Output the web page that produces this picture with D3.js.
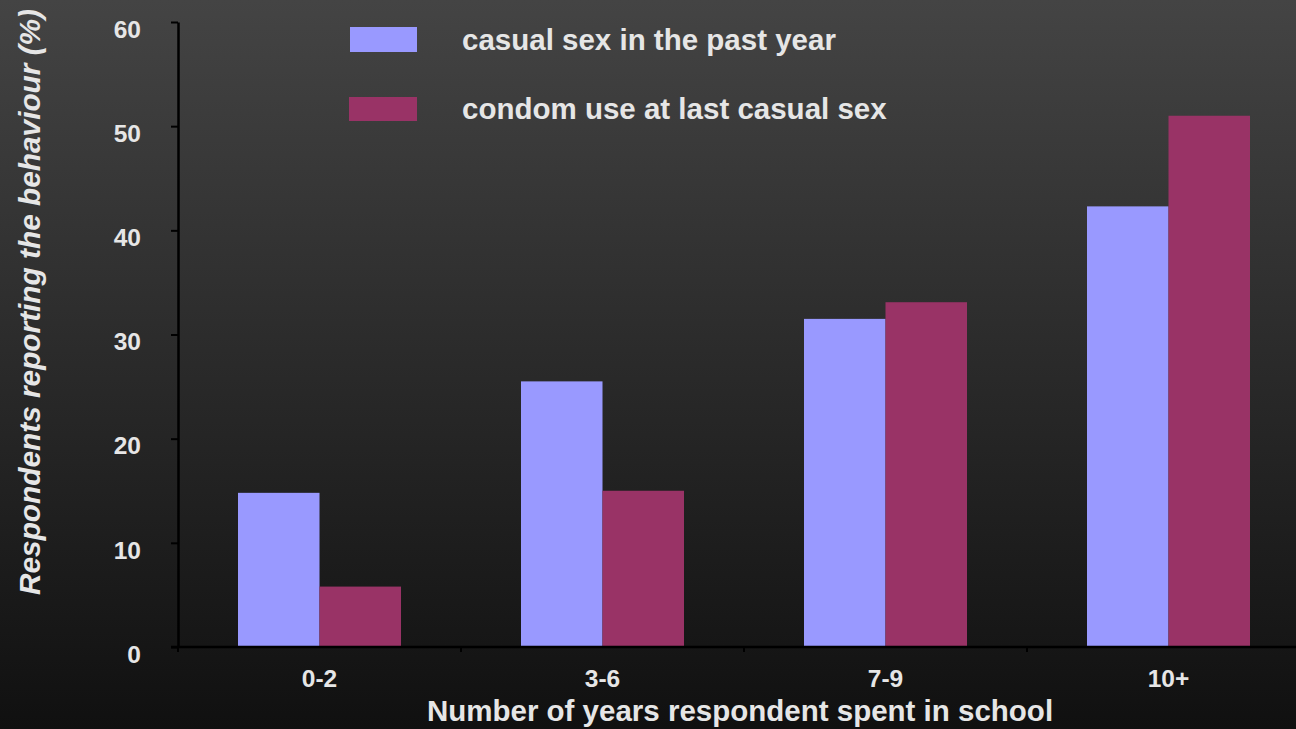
<!DOCTYPE html>
<html>
<head>
<meta charset="utf-8">
<script src="https://cdn.jsdelivr.net/npm/d3@7"></script>
<style>
  html, body { margin: 0; padding: 0; background: #111; }
  svg { display: block; }
  text { font-family: "Liberation Sans", Arial, sans-serif; font-weight: bold; fill: #e6e6e6; }
</style>
</head>
<body>
<svg id="chart" width="1296" height="729"></svg>
<script>
// Years of schooling groups
const categories = ["0-2", "3-6", "7-9", "10+"];
// Percent of respondents reporting each behaviour
const casualSex = [14.8, 25.5, 31.5, 42.3];
const condomUse = [5.8, 15.0, 33.1, 51.0];
const seriesNames = ["casual sex in the past year", "condom use at last casual sex"];
const seriesColors = ["#9999ff", "#993366"];
const yTicks = [0, 10, 20, 30, 40, 50, 60];

const svg = d3.select("#chart");
const W = 1296, H = 729;

// Background: vertical dark gradient
const defs = svg.append("defs");
const grad = defs.append("linearGradient")
  .attr("id", "bg").attr("x1", 0).attr("y1", 0).attr("x2", 0).attr("y2", 1);
grad.append("stop").attr("offset", "0%").attr("stop-color", "#444444");
grad.append("stop").attr("offset", "100%").attr("stop-color", "#101010");
svg.append("rect").attr("width", W).attr("height", H).attr("fill", "url(#bg)");

const x0 = 178, x1 = 1310, yTop = 22, yBot = 647;

const x = d3.scaleBand().domain(categories).range([x0, x1]).paddingInner(0).paddingOuter(0);
const barW = 81.5;
const xs = d3.scaleBand().domain([0, 1]).range([0, 2 * barW]);
const y = d3.scaleLinear().domain([0, 60]).range([yBot, yTop]);

const series = [casualSex, condomUse];

// Bars
const groups = svg.append("g").selectAll("g")
  .data(categories)
  .join("g")
  .attr("transform", d => `translate(${x(d) + (x.bandwidth() - 2 * barW) / 2},0)`);

groups.selectAll("rect")
  .data((d, i) => series.map((s, k) => ({ k, v: s[i] })))
  .join("rect")
  .attr("x", d => xs(d.k))
  .attr("width", xs.bandwidth())
  .attr("y", d => y(d.v))
  .attr("height", d => y(0) - y(d.v))
  .attr("fill", d => seriesColors[d.k]);

// Y axis
const yAxis = svg.append("g")
  .attr("transform", `translate(${x0},0)`)
  .call(d3.axisLeft(y).tickValues(yTicks).tickSize(7).tickSizeOuter(0).tickPadding(30));
yAxis.select(".domain").attr("stroke", "#000").attr("stroke-width", 2.5);
yAxis.selectAll(".tick line").attr("stroke", "#000").attr("stroke-width", 2);
yAxis.selectAll(".tick text")
  .attr("dy", "0.95em").attr("y", -8)
  .style("font-size", "24.5px").attr("fill", "#e6e6e6");

// X axis: baseline, boundary ticks and centred category labels
const xAxis = svg.append("g")
  .attr("transform", `translate(0,${yBot})`)
  .call(d3.axisBottom(x).tickSize(0).tickPadding(30).tickSizeOuter(0));
xAxis.select(".domain").attr("stroke", "#000").attr("stroke-width", 2.5)
  .attr("d", `M${x0 - 7},0H${x1}`);
xAxis.selectAll(".tick text").style("font-size", "24.5px").attr("fill", "#e6e6e6")
  .attr("dy", "0.71em").attr("y", 23);

const boundaries = categories.map(c => x(c)).concat([x1]);
xAxis.selectAll("line.bound")
  .data(boundaries)
  .join("line")
  .attr("class", "bound")
  .attr("x1", d => d).attr("x2", d => d)
  .attr("y1", 0).attr("y2", 5)
  .attr("stroke", "#000").attr("stroke-width", 2);

// Axis titles
svg.append("text")
  .attr("x", 740).attr("y", 721)
  .attr("text-anchor", "middle")
  .style("font-size", "29.5px")
  .text("Number of years respondent spent in school");

svg.append("text")
  .attr("transform", "translate(40,302) rotate(-90)")
  .attr("text-anchor", "middle")
  .style("font-size", "29.8px")
  .style("font-style", "italic")
  .text("Respondents reporting the behaviour (%)");

// Legend
const legend = svg.append("g");
const legendRows = [
  { name: seriesNames[0], color: seriesColors[0], sy: 27, sh: 25, sx: 350, base: 49.5 },
  { name: seriesNames[1], color: seriesColors[1], sy: 97, sh: 24, sx: 349, base: 119 }
];
legendRows.forEach(r => {
  legend.append("rect").attr("x", r.sx).attr("y", r.sy)
    .attr("width", 417 - r.sx).attr("height", r.sh).attr("fill", r.color);
  legend.append("text").attr("x", 462).attr("y", r.base)
    .style("font-size", "29.5px").text(r.name);
});
</script>
</body>
</html>
